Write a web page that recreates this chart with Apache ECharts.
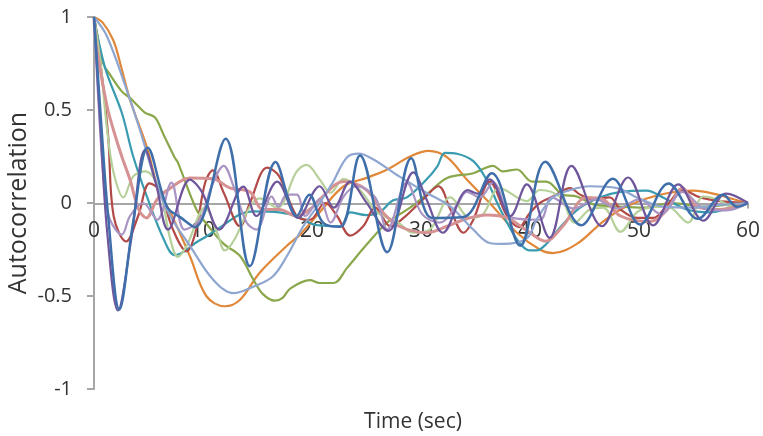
<!DOCTYPE html>
<html><head><meta charset="utf-8">
<script src="https://cdn.jsdelivr.net/npm/echarts@6/dist/echarts.min.js"></script>
<style>html,body{margin:0;padding:0;background:#fff}#c{width:763px;height:436px}</style>
</head><body><div id="c"></div>
<script>
const orange=[[0,1],[0.8,.97],[1.77,.875],[2.5,.73],[3.3,.556],[4.85,.3],[6,.055],[7,-.05],[8.8,-.286],[10.3,-.5],[12,-.555],[13.4,-.52],[15.2,-.375],[17.7,-.23],[18.9,-.17],[20.7,-.05],[22.9,.09],[25,.135],[26.9,.18],[29,.25],[30.7,.28],[32.4,.245],[34.2,.126],[36.3,0],[38.8,-.16],[40.9,-.25],[42.1,-.27],[44.3,-.22],[46.4,-.115],[48.3,-.035],[50.7,.024],[52.8,.055],[55,.067],[57.2,.045],[59,.015],[60,0]];
const green=[[0,1],[.85,.75],[1.47,.69],[2.55,.6],[3.3,.565],[4.07,.52],[4.7,.485],[5.6,.46],[6.36,.37],[7.4,.245],[7.7,.217],[9.4,-.035],[10.5,-.125],[11.9,-.22],[13.4,-.285],[14.6,-.41],[15.5,-.49],[16.6,-.525],[17.3,-.51],[18,-.46],[19.8,-.415],[20.7,-.43],[22,-.43],[23.2,-.35],[25,-.225],[26.9,-.105],[29,-.025],[30.8,.06],[32.4,.135],[34.8,.16],[36.6,.2],[37.5,.17],[38.8,.18],[40.2,.115],[41.5,.115],[43,.045],[44.3,.035],[46,-.01],[48.3,-.02],[50.4,-.025],[53,0],[56,-.02],[58,-.01],[60,0]];
const teal=[[0,1],[1,.73],[2.55,.485],[3.6,.25],[4.85,.035],[6.4,-.195],[7.4,-.28],[8.3,-.26],[9.3,-.215],[10.3,-.18],[11.6,-.13],[13.4,-.06],[14.6,-.045],[17,-.05],[18.6,-.07],[20.1,-.115],[20.7,-.12],[22.6,-.125],[23.5,-.05],[25,-.065],[26.2,-.05],[27.4,.013],[28.7,.03],[30.5,.126],[31.5,.197],[32.2,.27],[33.3,.265],[34.8,.225],[36,.126],[37.2,-.025],[38.8,-.195],[40,-.255],[40.6,-.255],[41.5,-.22],[43,-.115],[44.6,-.025],[46.4,.03],[48.3,.06],[50.7,.067],[52.2,.03],[54.4,-.035],[56.5,-.05],[58.6,-.02],[60,0]];
const red=[[0,1],[.6,.75],[1.3,.36],[1.8,-.07],[2.95,-.207],[4.05,-.07],[5.1,.105],[6,.07],[7.25,-.143],[8.5,-.26],[9.3,-.16],[10.2,.11],[10.9,.175],[11.9,.055],[13.4,-.125],[14.3,0],[15.9,.19],[17,.143],[18.6,-.07],[19.8,-.09],[21.2,0],[22.3,-.07],[23.5,-.175],[24.7,-.125],[25.8,-.025],[27.2,-.125],[28.4,-.08],[30.2,.02],[31.6,.09],[32.7,-.035],[33.9,-.16],[34.8,-.09],[36.3,.115],[37.9,-.07],[39,-.13],[39.9,-.06],[40.9,0],[42.1,.035],[43.7,.08],[44.6,.045],[45.8,.02],[47.3,.03],[48.3,-.035],[49.8,-.08],[51.3,-.08],[52.6,-.01],[54,.07],[55.6,.03],[57.4,.01],[60,0]];
const lightGreen=[[0,1],[.6,.75],[1.2,.395],[1.8,.163],[2.7,.03],[3.6,.143],[4.7,.17],[6,.07],[7,-.195],[7.7,-.29],[8.5,-.23],[10.2,-.025],[11.3,-.16],[12,-.255],[12.9,-.195],[14.3,-.02],[15.2,.025],[16.8,-.025],[18.6,.17],[19.5,.205],[20.7,.127],[21.7,.055],[22.9,.13],[24.4,.07],[26,-.05],[27.8,-.1],[29.3,-.16],[30.8,-.143],[32.7,.03],[34.5,-.08],[35.7,-.06],[37.2,.08],[39.7,.01],[40.9,.07],[42.8,.03],[44.1,-.105],[45.5,-.035],[46.7,-.025],[48.3,-.155],[49.8,-.05],[51,-.025],[52.6,-.02],[54.5,-.105],[55.9,.035],[57.4,.015],[58.6,-.025],[60,0]];
const pink=[[0,1],[.2,.85],[1.2,.52],[1.8,.39],[2.55,.25],[3.3,.126],[4.1,-.035],[4.8,-.08],[5.8,.02],[7,.08],[8.8,.135],[10.9,.13],[12.5,.08],[14.3,.06],[15.5,-.035],[17,-.035],[18.6,-.07],[20.1,-.02],[20.7,.02],[22.9,.115],[25,.07],[26.5,-.05],[28,-.125],[30.5,-.16],[32.4,-.125],[34.2,-.085],[36,-.065],[37.9,-.08],[40,-.16],[41.4,-.205],[43,-.125],[45.2,.03],[46.7,.02],[48.3,-.07],[51,-.1],[52.6,-.035],[54,.08],[55.3,-.02],[57.4,-.035],[60,0]];
const lavender=[[0,1],[.5,.45],[1,.05],[1.47,-.09],[2.55,-.17],[3.3,-.07],[4.5,0],[5.8,-.09],[7.1,.11],[8.3,-.143],[9.7,-.09],[10.8,.09],[11.9,.2],[12.8,.09],[14,-.105],[14.9,-.143],[16.3,.035],[16.9,-.02],[17.7,.045],[18.6,.045],[19.4,-.07],[20.7,.02],[21.7,-.105],[22.9,.035],[24.1,.09],[25.8,.03],[26.9,-.143],[28.7,.11],[30.1,-.06],[31.7,-.105],[33.3,-.01],[34.2,.06],[35.4,.03],[36.6,.11],[38.4,-.08],[40.9,-.09],[42,.03],[44,-.03],[46,.02],[48,-.03],[50,.02],[52,-.06],[54,.06],[56,-.03],[58,-.04],[60,0]];
const periwinkle=[[0,1],[1.2,.895],[3.3,.556],[4.2,.395],[5.8,.09],[7,-.07],[8.8,-.23],[10.9,-.41],[12.8,-.485],[14.6,-.45],[16.4,-.395],[17.7,-.285],[19.2,-.125],[20.7,0],[21.9,.11],[23.2,.245],[24.3,.265],[25.6,.235],[28,.143],[30.5,.055],[32.7,-.02],[34.8,-.143],[36.3,-.215],[37.5,-.22],[39.7,-.19],[40.6,-.09],[42.1,.03],[43.7,.07],[45.5,.09],[48,.08],[49.8,.03],[52.2,-.02],[55,-.025],[57.4,-.01],[60,0]];
const purple=[[0,1],[.6,.4],[1.2,-.15],[2.2,-.578],[3.4,-.2],[4.7,.286],[5.7,.1],[6.8,-.143],[8.8,.126],[9.9,.06],[11.5,-.143],[13.7,.088],[14.9,-.07],[16.8,.115],[18.7,-.08],[20.7,.09],[22,-.025],[23.5,.115],[24.9,.01],[27,-.15],[29.3,.165],[30.5,.02],[32,-.16],[34.3,.07],[35.2,.05],[36.3,.127],[38.2,-.07],[39.7,.1],[41.8,-.187],[43.8,.2],[46.6,-.125],[49,.137],[51.3,-.12],[53.6,.1],[55.9,-.095],[58,.05],[60,0]];
const blue=[[0,1],[.7,.395],[1.3,-.07],[2.32,-.573],[3.6,-.1],[4.93,.297],[6.7,-.02],[8,-.08],[9.27,-.13],[12.08,.345],[14.3,-.34],[16.66,.22],[18.6,-.07],[19.75,.045],[21,-.105],[22.6,-.128],[24.4,.255],[26.9,-.265],[29.1,.24],[31,-.08],[33.9,-.075],[36.5,.16],[39.1,-.23],[41.4,.222],[44.7,-.12],[47.6,.13],[50.1,-.116],[52.7,.105],[55.4,-.085],[57.7,.045],[59,-.02],[60,0]];
const xTicks=[0,10,20,30,40,50,60];
const yTicks=[-1,-0.5,0,0.5,1];

const seriesDefs=[
 ['Orange',orange,'#e0883a',2.2],['Green',green,'#8aa74b',2.2],['Teal',teal,'#399bb0',2.2],
 ['Red',red,'#b24a47',2.2],['Light green',lightGreen,'#b6d09a',2.2],['Pink',pink,'#d69292',3],
 ['Lavender',lavender,'#a994c4',2.2],['Periwinkle',periwinkle,'#8fa6d0',2.2],
 ['Purple',purple,'#6f559c',2.2],['Blue',blue,'#3f6fab',2.5]];
const font='"Open Sans","Noto Sans",sans-serif';
const chart=echarts.init(document.getElementById('c'),null,{renderer:'canvas'});
chart.setOption({
 animation:false,
 grid:{left:94,right:15,top:17,bottom:47,outerBoundsMode:'none',containLabel:false},
 xAxis:{type:'value',min:0,max:60,interval:10,position:'bottom',offset:-185.5,name:'Time (sec)',nameLocation:'middle',nameGap:208,nameMoveOverlap:false,
  nameTextStyle:{fontSize:21,color:'#333',fontFamily:font,padding:[0,16,0,0]},
  axisLine:{onZero:false,lineStyle:{color:'#a6a6a6',width:2}},
  axisTick:{show:true,customValues:[60],length:5,lineStyle:{color:'#a6a6a6',width:2}},splitLine:{show:false},
  axisLabel:{fontSize:21,color:'#333',fontFamily:font,margin:17,customValues:xTicks,formatter:v=>String(v)}},
 yAxis:{type:'value',min:-1,max:1,interval:0.5,name:'Autocorrelation',nameLocation:'middle',nameGap:63,nameMoveOverlap:false,
  nameTextStyle:{fontSize:25,color:'#333',fontFamily:font},
  axisLine:{show:true,onZero:false,lineStyle:{color:'#a6a6a6',width:2}},
  axisTick:{show:true,length:7,lineStyle:{color:'#a6a6a6',width:2}},splitLine:{show:false},
  axisLabel:{fontSize:20,color:'#333',fontFamily:font,margin:22,formatter:v=>yTicks.includes(v)?String(v):''}},
 series:seriesDefs.map(([name,data,color,w])=>({name,type:'line',data,smooth:0.36,showSymbol:false,symbol:'none',
  clip:false,lineStyle:{color,width:w}}))
});
</script></body></html>
